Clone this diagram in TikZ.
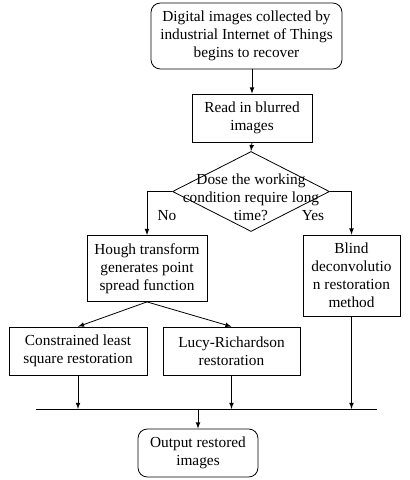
\documentclass[tikz,border=0pt]{standalone}
\usepackage{fontspec}
\setmainfont{Liberation Serif}
\newfontfamily\tnr{Liberation Serif}
\usetikzlibrary{shapes.geometric,arrows.meta}

\tikzset{
  txt/.style={font=\tnr\fontsize{11.5}{13.5}\selectfont,
    execute at begin node={\tnr\fontsize{11.5}{13.5}\selectfont}},
  box/.style={txt,draw,line width=0.6pt,align=center,inner sep=1pt},
  roundbox/.style={box,rounded corners=7pt},
  line/.style={line width=0.6pt}
}

\begin{document}
\begin{tikzpicture}[x=0.75pt,y=-0.75pt,>=latex]

\useasboundingbox (0,0) rectangle (410,480);

% Start
\node[roundbox,minimum width=143.25pt,minimum height=49.5pt] (start) at (246.5,36)
  {Digital images collected by\\industrial Internet of Things\\begins to recover};

% Read
\node[box,minimum width=90pt,minimum height=36pt] (read) at (252,118)
  {Read in blurred\\images};

% Decision
\node[diamond,draw,line width=0.6pt,inner sep=0pt,minimum width=117.75pt,minimum height=60pt] (dec) at (251,191.5) {};
\node[txt,align=center,inner sep=0pt] (dectext) at (251,197)
  {Dose the working\\condition require long\\time?};

% Branches
\node[box,minimum width=90pt,minimum height=49.5pt] (hough) at (147,268.5)
  {Hough transform\\generates point\\spread function};
\node[box,minimum width=72.75pt,minimum height=60.75pt] (blind) at (351.5,275.5)
  {Blind\\deconvolutio\\n restoration\\method};

% Restoration
\node[box,minimum width=103.5pt,minimum height=36pt] (cls) at (78,351)
  {Constrained least\\square restoration};
\node[box,minimum width=102.75pt,minimum height=36pt] (lucy) at (231.5,351)
  {Lucy-Richardson\\restoration};

% Output
\node[roundbox,minimum width=90pt,minimum height=36pt] (out) at (198,453)
  {Output restored\\images};

% Labels
\node[txt] (no) at (167,216) {No};
\node[txt] (yes) at (313,216) {Yes};

% Bus
\coordinate (busL) at (36,409);
\coordinate (busR) at (377,409);
\draw[line] (busL) -- (busR);

% Arrows
\draw[line,->] (start.south -| read.north) -- (read.north);
\draw[line,->] (read.south) -- (dec.north);
\draw[line,->] (dec.west) -| (hough.north);
\draw[line,->] (dec.east) -| (blind.north);
\draw[line,->] (hough.south) -- (cls.north);
\draw[line,->] (hough.south) -- (lucy.north);
\draw[line,->] (cls.south) -- (cls.south |- busL);
\draw[line,->] (lucy.south) -- (lucy.south |- busL);
\draw[line,->] (blind.south) -- (blind.south |- busL);
\draw[line,->] (out.north |- busL) -- (out.north);

\end{tikzpicture}
\end{document}
